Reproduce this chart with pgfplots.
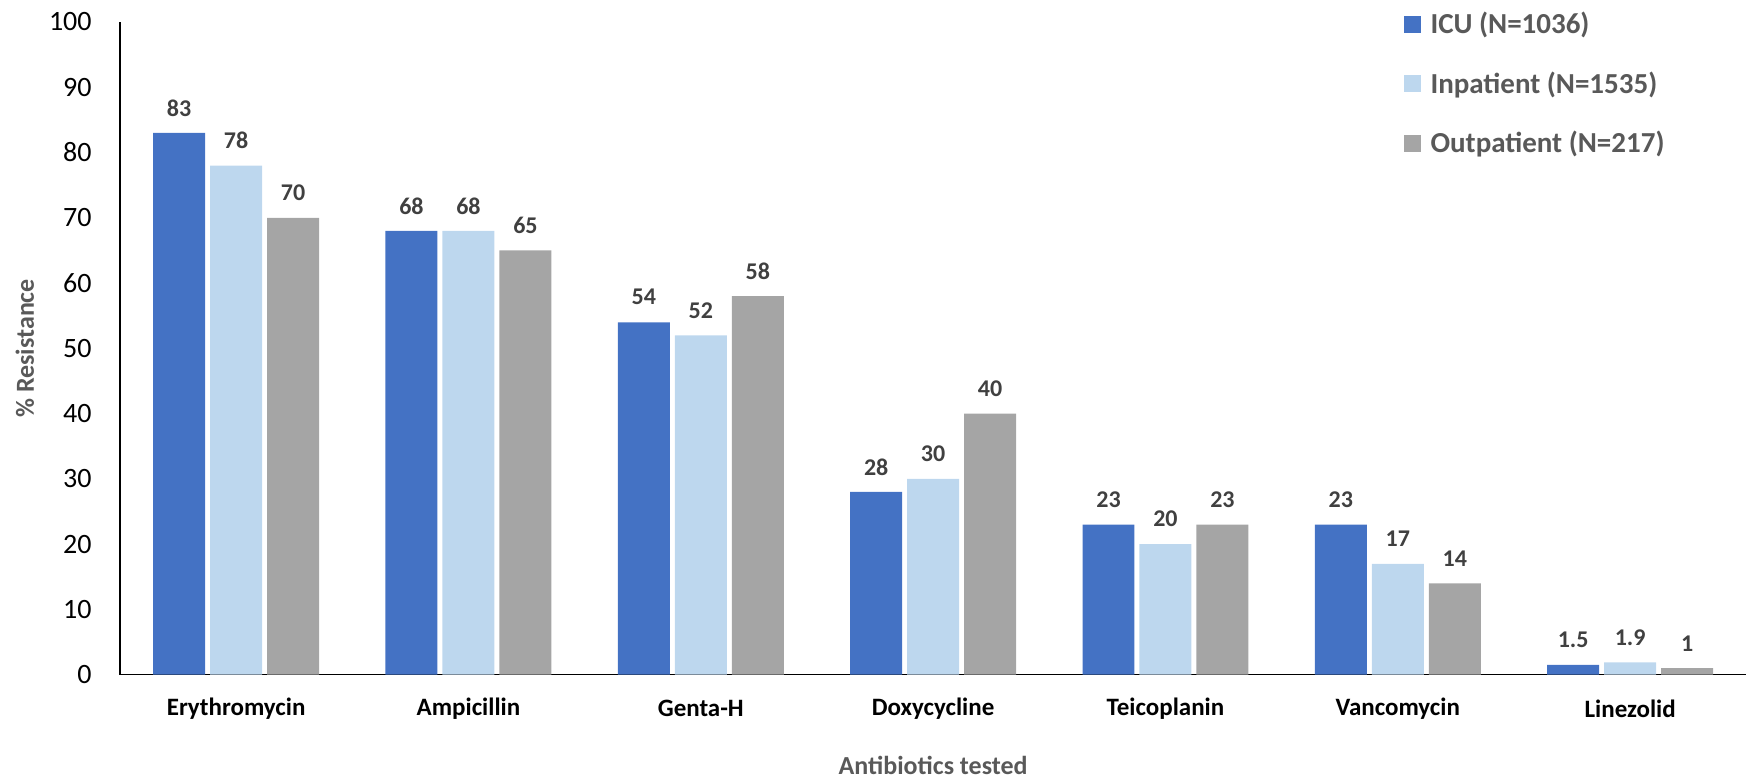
\documentclass[border=0pt]{standalone}
\usepackage{pgfplots}
\pgfplotsset{compat=1.18}
\usepackage{fontspec}
\setmainfont{Carlito}
\definecolor{icu}{HTML}{4472C4}
\definecolor{inpat}{HTML}{BDD7EE}
\definecolor{outpat}{HTML}{A5A5A5}
\definecolor{lbl}{HTML}{404040}
\definecolor{ttl}{HTML}{595959}

\begin{document}
\begin{tikzpicture}
\begin{axis}[
  name=ax,
  scale only axis, width=813.5pt, height=326.5pt,
  ybar=2.5pt, bar width=26pt,
  xmin=-0.5, xmax=6.5, ymin=0, ymax=100,
  xtick=data,
  xticklabels={Erythromycin,Ampicillin,Genta-H,Doxycycline,Teicoplanin,Vancomycin,Linezolid},
  ytick={0,10,...,100},
  axis x line=bottom, axis y line=left,
  axis line style={-, black, line width=0.7pt},
  major tick length=0pt,
  /pgf/number format/assume math mode=true,
  xticklabel style={font=\bfseries\fontsize{12.5}{14}\selectfont, text=black, anchor=center, yshift=-17pt},
  yticklabel style={font=\fontsize{14}{16}\selectfont, text=black, anchor=east, inner sep=0pt, xshift=-14pt},
  every axis x label/.style={at={(axis description cs:0.5,0)}, anchor=center, yshift=-45.5pt},
  every axis y label/.style={at={(axis description cs:0,0.5)}, anchor=center, rotate=90, yshift=47.5pt},
  xlabel={Antibiotics tested},
  ylabel={\% Resistance},
  label style={font=\bfseries\fontsize{13}{15}\selectfont, text=ttl},
  nodes near coords,
  every node near coord/.append style={font=\bfseries\fontsize{12}{14}\selectfont, text=lbl, anchor=center, yshift=12.5pt},
  legend style={draw=none, fill=none, at={(axis description cs:0.789,1.02)}, anchor=north west,
    inner sep=0pt, row sep=14.4pt, font=\bfseries\fontsize{14.5}{16}\selectfont, text=ttl,
    nodes={inner sep=1.5pt}},
  legend cell align=left,
  legend image code/.code={\fill[#1, draw=none] (0pt,-4.25pt) rectangle (8.5pt,4.25pt);},
  /tikz/every odd column/.style={column sep=3.5pt},
]
\addplot[fill=icu, draw=none] coordinates {(0,83) (1,68) (2,54) (3,28) (4,23) (5,23) (6,1.5)};
\addplot[fill=inpat, draw=none] coordinates {(0,78) (1,68) (2,52) (3,30) (4,20) (5,17) (6,1.9)};
\addplot[fill=outpat, draw=none] coordinates {(0,70) (1,65) (2,58) (3,40) (4,23) (5,14) (6,1)};
\legend{ICU (N=1036), Inpatient (N=1535), Outpatient (N=217)}
\end{axis}
\path (ax.south west) ++(-60pt,-52pt) coordinate (bbsw);
\path (ax.north east) ++(0pt,11pt) coordinate (bbne);
\end{tikzpicture}
\end{document}
